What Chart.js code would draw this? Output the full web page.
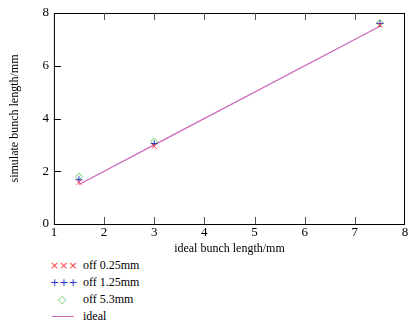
<!DOCTYPE html>
<html>
<head>
<meta charset="utf-8">
<script src="https://cdn.jsdelivr.net/npm/chart.js@4"></script>
<style>
    body { margin: 0; background: #fff; width: 410px; height: 326px; overflow: hidden; }
    .wrap { position: relative; width: 410px; height: 256px; }
    .legend { position: absolute; left: 50px; top: 257px; font-family: "Liberation Serif", serif; font-size: 12px; color: #000; }
    .legend .row { height: 17px; line-height: 17px; position: relative; }
    .legend .sym { position: absolute; left: 0; width: 24px; text-align: center; font-family: "DejaVu Sans", sans-serif; font-size: 11px; }
    .legend .txt { position: absolute; left: 33px; white-space: nowrap; }
    .legend .line { position: absolute; left: 2px; top: 8px; width: 22px; border-top: 1px solid #cc66bb; }
</style>
</head>
<body>
<div class="wrap"><canvas id="myChart" width="410" height="256"></canvas></div>
<div class="legend">
    <div class="row"><span class="sym" style="color:#ff4444">×××</span><span class="txt">off 0.25mm</span></div>
    <div class="row"><span class="sym" style="color:#2233cc">+++</span><span class="txt">off 1.25mm</span></div>
    <div class="row"><span class="sym" style="color:#66cc66">◇</span><span class="txt">off 5.3mm</span></div>
    <div class="row"><span class="line"></span><span class="txt">ideal</span></div>
</div>
<script>
// data
const idealX = [1.5, 3, 7.5];
const off025 = [1.58, 2.95, 7.55];
const off125 = [1.68, 3.05, 7.6];
const off53 = [1.8, 3.13, 7.62];
const ideal = [1.5, 3, 7.5];
const xTicks = [1, 2, 3, 4, 5, 6, 7, 8];
const yTicks = [0, 2, 4, 6, 8];

const toPts = (ys) => idealX.map((x, i) => ({ x: x, y: ys[i] }));

// box around the plot + inward tick marks
const frame = {
    id: "frame",
    afterDraw(chart) {
        const c = chart.ctx;
        const a = chart.chartArea;
        const xs = chart.scales.x;
        const ys = chart.scales.y;
        c.save();
        c.strokeStyle = "#000";
        c.lineWidth = 1;
        c.strokeRect(a.left + 0.5, a.top + 0.5, a.right - a.left - 1, a.bottom - a.top);
        c.strokeStyle = "#555";
        xTicks.slice(1, -1).forEach(v => {
            const px = Math.round(xs.getPixelForValue(v)) + 0.5;
            c.beginPath();
            c.moveTo(px, a.bottom); c.lineTo(px, a.bottom - 7);
            c.moveTo(px, a.top); c.lineTo(px, a.top + 7);
            c.stroke();
        });
        c.strokeStyle = "#000";
        yTicks.slice(1, -1).forEach(v => {
            const py = Math.round(ys.getPixelForValue(v)) + 0.5;
            c.beginPath();
            c.moveTo(a.left, py); c.lineTo(a.left + 7, py);
            c.stroke();
        });
        c.restore();
    }
};

const serif = { family: "Liberation Serif", size: 13 };

new Chart(document.getElementById("myChart").getContext("2d"), {
    type: "scatter",
    data: {
        datasets: [
            {
                label: "off 0.25mm",
                data: toPts(off025),
                pointStyle: "crossRot",
                borderColor: "#ff4444",
                pointRadius: 3.5,
                borderWidth: 1
            },
            {
                label: "off 1.25mm",
                data: toPts(off125),
                pointStyle: "cross",
                borderColor: "#2233cc",
                pointRadius: 3.5,
                borderWidth: 1
            },
            {
                label: "off 5.3mm",
                data: toPts(off53),
                pointStyle: "rectRot",
                borderColor: "#66cc66",
                backgroundColor: "rgba(0,0,0,0)",
                pointRadius: 3.5,
                borderWidth: 1
            },
            {
                label: "ideal",
                type: "line",
                data: toPts(ideal),
                borderColor: "#cc66bb",
                borderWidth: 1.2,
                pointRadius: 0,
                fill: false
            }
        ]
    },
    options: {
        responsive: false,
        animation: false,
        layout: { padding: { top: 13, right: 2, left: 8, bottom: 0 } },
        plugins: { legend: { display: false }, tooltip: { enabled: false } },
        scales: {
            x: {
                min: 1, max: 8,
                afterBuildTicks: (s) => { s.ticks = xTicks.map(v => ({ value: v })); },
                grid: { display: false, drawTicks: false },
                border: { display: false },
                ticks: { color: "#000", font: serif, padding: 1, maxRotation: 0 },
                title: { display: true, text: "ideal bunch length/mm", color: "#000", font: { family: "Liberation Serif", size: 12 }, padding: { top: 0, bottom: 0 } }
            },
            y: {
                min: 0, max: 8,
                afterBuildTicks: (s) => { s.ticks = yTicks.map(v => ({ value: v })); },
                grid: { display: false, drawTicks: false },
                border: { display: false },
                ticks: { color: "#000", font: serif, padding: 5 },
                title: { display: true, text: "simulate bunch length/mm", color: "#000", font: { family: "Liberation Serif", size: 12 }, padding: { top: 0, bottom: 15 } }
            }
        }
    },
    plugins: [frame]
});
</script>
</body>
</html>
